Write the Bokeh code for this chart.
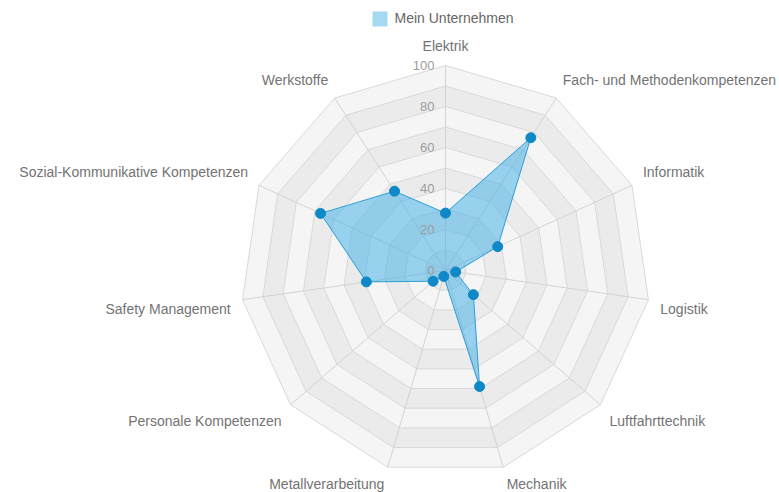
import numpy as np
from bokeh.plotting import figure
from bokeh.models import Range1d
from bokeh.embed import file_html
from bokeh.resources import INLINE
from bokeh.core.properties import value

# ---------------- data ----------------
categories = ["Elektrik", "Fach- und Methodenkompetenzen", "Informatik", "Logistik",
              "Luftfahrttechnik", "Mechanik", "Metallverarbeitung", "Personale Kompetenzen",
              "Safety Management", "Sozial-Kommunikative Kompetenzen", "Werkstoffe"]
mein_unternehmen = [28, 77, 28, 5, 18, 59, 3, 8, 39, 67, 46]
series_name = "Mein Unternehmen"
tick_values = [0, 20, 40, 60, 80, 100]
tick_labels = ["0", "20", "40", "60", "80", "100"]
ring_values = [100, 90, 80, 70, 60, 50, 40, 30, 20, 10]

# ---------------- layout ----------------
W, H = 779, 492
CX, CY = 445, 270          # centre in canvas px (from left / from top)
RPX = 205                   # pixels for value 100
k = RPX / 100.0
FONT = "Liberation Sans"
LAB_SIZE = 14

def px_x(px):
    return (px - CX) / k

def px_y(py):
    return (CY - py) / k

p = figure(width=W, height=H, output_backend="svg", toolbar_location=None,
           x_range=Range1d(px_x(0), px_x(W)), y_range=Range1d(px_y(H), px_y(0)),
           min_border=0, outline_line_color=None)
p.axis.visible = False
p.grid.visible = False
p.background_fill_color = "white"
p.border_fill_color = "white"

n = len(categories)
ang = np.pi / 2 - 2 * np.pi * np.arange(n) / n
cosa, sina = np.cos(ang), np.sin(ang)

# ---------------- bands / rings ----------------
for i, r in enumerate(ring_values):
    fill = "#f5f5f5" if i % 2 == 0 else "#ebebeb"
    p.patch(list(r * cosa), list(r * sina), fill_color=fill, line_color="#d9d9d9",
            line_width=1)

# spokes
rmax = max(ring_values)
p.segment(x0=[0] * n, y0=[0] * n, x1=list(rmax * cosa), y1=list(rmax * sina),
          line_color="#d3d3d3", line_width=1)

# ---------------- series ----------------
vals = np.array(mein_unternehmen, dtype=float)
sx, sy = vals * cosa, vals * sina
p.patch(list(sx), list(sy), fill_color="#3aaee6", fill_alpha=0.5,
        line_color="#2a9fd6", line_width=1)
p.scatter(list(sx), list(sy), size=10, marker="circle", fill_color="#0e88c6",
          line_color="#0e88c6")

# ---------------- category labels ----------------
lab_r = (RPX + 12) / k
for c, ca, sa in zip(categories, cosa, sina):
    if ca > 0.05:
        align = "left"
    elif ca < -0.05:
        align = "right"
    else:
        align = "center"
    base = "bottom" if sa > 0 else "top"
    ly = lab_r * sa
    if base == "top":
        ly = max(ly, px_y(H - LAB_SIZE - 3))
    p.text(x=[lab_r * ca], y=[ly], text=[c], text_align=align,
           text_baseline=base, text_font=value(FONT), text_font_size=f"{LAB_SIZE}px",
           text_color="#737373")

# ---------------- radial tick labels ----------------
p.text(x=[px_x(CX - 11)] * len(tick_values), y=tick_values, text=tick_labels,
       text_align="right", text_baseline="middle", text_font=value(FONT),
       text_font_size="13px", text_color="#9c9c9c")

# ---------------- legend ----------------
p.rect(x=[px_x(379.5)], y=[px_y(18.5)], width=15 / k, height=15 / k,
       fill_color="#a6daf2", line_color=None)
p.text(x=[px_x(394)], y=[px_y(17.5)], text=[series_name], text_align="left",
       text_baseline="middle", text_font=value(FONT), text_font_size=f"{LAB_SIZE}px",
       text_color="#666666")

open("out.html", "w").write(file_html(p, INLINE))
